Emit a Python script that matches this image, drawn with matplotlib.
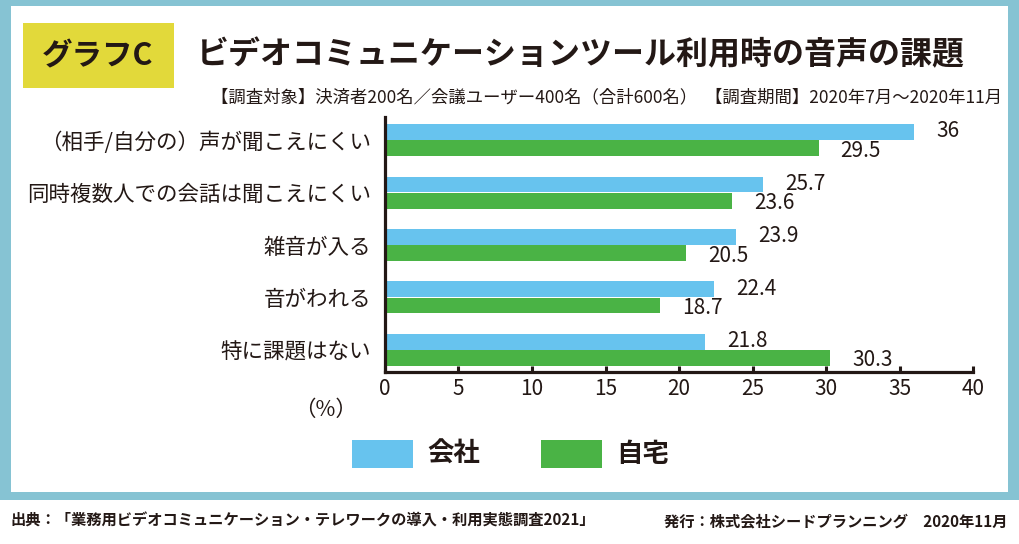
import matplotlib.pyplot as plt
from matplotlib.patches import Rectangle

plt.rcParams['font.family'] = ['Noto Sans CJK JP', 'DejaVu Sans']

# data
categories = ['（相手/自分の）声が聞こえにくい', '同時複数人での会話は聞こえにくい',
              '雑音が入る', '音がわれる', '特に課題はない']
office = [36, 25.7, 23.9, 22.4, 21.8]
home = [29.5, 23.6, 20.5, 18.7, 30.3]
series_names = ['会社', '自宅']
xticks = [0, 5, 10, 15, 20, 25, 30, 35, 40]

W, H = 1020, 544
ink = '#231815'
blue = '#67C3EE'
green = '#4AB345'
frame = '#86C3D3'
yellow = '#E2D93A'


def fx(x):
    return x / W


def fy(y):
    return 1 - y / H


fig = plt.figure(figsize=(W / 100, H / 100), dpi=100)
fig.patch.set_facecolor('white')

# frame and panel
fig.patches.append(Rectangle((0, fy(500)), 1, 1 - fy(500), transform=fig.transFigure,
                             facecolor=frame, edgecolor='none', zorder=-3))
fig.patches.append(Rectangle((fx(11), fy(492)), fx(1008 - 11), (492 - 6) / H,
                             transform=fig.transFigure, facecolor='white',
                             edgecolor='none', zorder=-2))
fig.patches.append(Rectangle((fx(23), fy(88)), fx(174 - 23), (88 - 23) / H,
                             transform=fig.transFigure, facecolor=yellow,
                             edgecolor='none', zorder=-1))

fig.text(fx(98), fy(56), 'グラフC', fontsize=22, fontweight='bold', color=ink,
         ha='center', va='center')
fig.text(fx(197), fy(55), 'ビデオコミュニケーションツール利用時の音声の課題', fontsize=23,
         fontweight='bold', color=ink, ha='left', va='center')
fig.text(fx(1002), fy(97),
         '【調査対象】決済者200名／会議ユーザー400名（合計600名）  【調査期間】2020年7月～2020年11月',
         fontsize=12.5, color=ink, ha='right', va='center')

# axes
ax = fig.add_axes([fx(385), fy(372), fx(973 - 385), (372 - 117) / H])
ypos = list(range(len(categories)))
ax.barh([y - 0.155 for y in ypos], office, height=0.30, color=blue, edgecolor='none')
ax.barh([y + 0.155 for y in ypos], home, height=0.30, color=green, edgecolor='none')

for y, v in zip(ypos, office):
    ax.text(v + 1.5, y - 0.17, f'{v:g}', fontsize=15, color=ink, ha='left', va='center')
for y, v in zip(ypos, home):
    ax.text(v + 1.5, y + 0.2, f'{v:g}', fontsize=15, color=ink, ha='left', va='center')

ax.set_xlim(0, 40)
ax.set_ylim(4.42, -0.44)
ax.set_xticks(xticks)
ax.set_xticklabels([str(t) for t in xticks], fontsize=15, color=ink)
ax.set_yticks(ypos)
ax.set_yticklabels(categories, fontsize=15.5, color=ink)
ax.tick_params(axis='x', direction='in', length=4, width=2.2, color=ink, pad=4)
ax.tick_params(axis='y', length=0, pad=10)
for s in ['top', 'right']:
    ax.spines[s].set_visible(False)
for s in ['left', 'bottom']:
    ax.spines[s].set_linewidth(2.3)
    ax.spines[s].set_color(ink)
ax.set_facecolor('none')

fig.text(fx(326), fy(410), '（%）', fontsize=15.5, color=ink, ha='center', va='center')

# legend
for x0, name, c in [(352, series_names[0], blue), (541, series_names[1], green)]:
    fig.patches.append(Rectangle((fx(x0), fy(468)), fx(61), 28 / H,
                                 transform=fig.transFigure, facecolor=c, edgecolor='none'))
    fig.text(fx(x0 + 75), fy(454), name, fontsize=19, fontweight='bold', color=ink,
             ha='left', va='center')

# footer
fig.text(fx(10), fy(521),
         '出典：「業務用ビデオコミュニケーション・テレワークの導入・利用実態調査2021」',
         fontsize=11, fontweight='bold', color=ink, ha='left', va='center')
fig.text(fx(1008), fy(521), '発行：株式会社シードプランニング　2020年11月',
         fontsize=11, fontweight='bold', color=ink, ha='right', va='center')

fig.savefig('out.png', dpi=100)
